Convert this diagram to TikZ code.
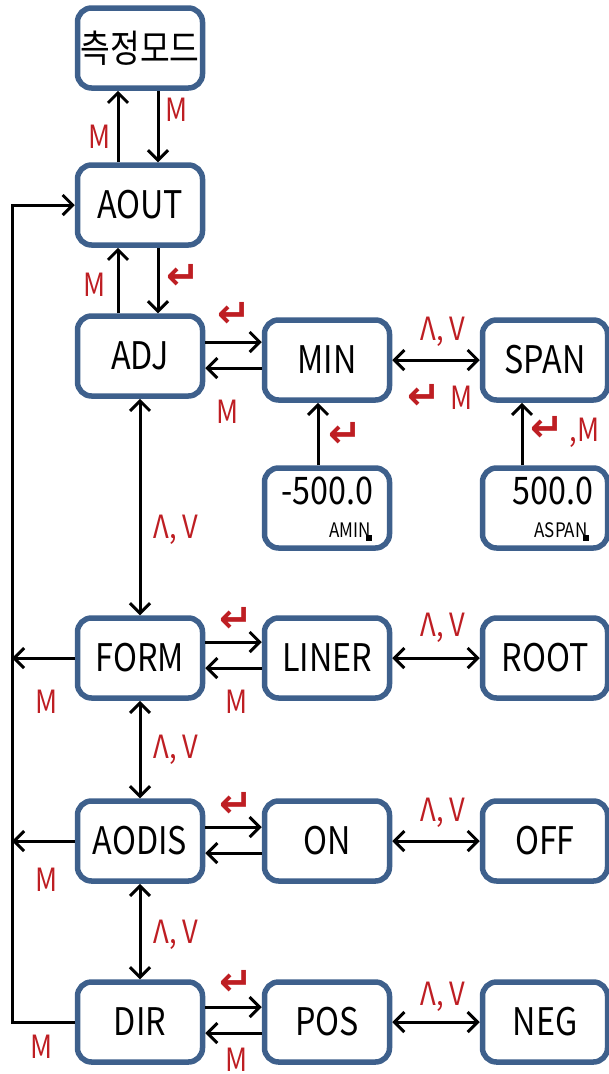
\documentclass[tikz,border=0pt]{standalone}
\usepackage{fontspec}
\setmainfont{Noto Sans CJK KR}[FakeStretch=0.85]
\newfontfamily\retfont{DejaVu Sans Bold}
\usetikzlibrary{arrows.meta}
\definecolor{boxblue}{RGB}{62,96,140}
\definecolor{keyred}{RGB}{190,30,35}
\newcommand{\ret}{{\retfont\fontsize{40}{40}\selectfont ↵}}
\begin{document}
\begin{tikzpicture}[x=1pt,y=-1pt,
  box/.style={draw=boxblue,line width=5.5pt,rounded corners=14pt,minimum width=125pt,minimum height=80pt,inner sep=0pt,font=\fontsize{38}{40}\selectfont},
  key/.style={text=keyred,inner sep=0pt,font=\fontsize{32}{34}\selectfont},
  arr/.style={line width=3pt,-{Straight Barb[length=10pt,width=20pt]}},
  both/.style={line width=3pt,{Straight Barb[length=10pt,width=20pt]}-{Straight Barb[length=10pt,width=20pt]}}]
\useasboundingbox (0,0) rectangle (609,1074);
% boxes
\node[box] (mode) at (140,48) {측정모드};
\node[box] (aout) at (140,205) {AOUT};
\node[box] (adj) at (140,356) {ADJ};
\node[box] (min) at (327,360) {MIN};
\node[box] (span) at (545,360) {SPAN};
\node[box] (amin) at (327,508) {};
\node[box] (aspan) at (545,508) {};
\node[box] (form) at (140,658) {FORM};
\node[box] (liner) at (327,658) {LINER};
\node[box] (root) at (545,658) {ROOT};
\node[box] (aodis) at (140,841) {AODIS};
\node[box] (on) at (327,841) {ON};
\node[box] (off) at (545,841) {OFF};
\node[box] (dir) at (140,1022) {DIR};
\node[box] (pos) at (327,1022) {POS};
\node[box] (neg) at (545,1022) {NEG};
% values
\node[font=\fontsize{38}{40}\selectfont] (aminval) at (327,491) {-500.0};
\node[font=\fontsize{20}{22}\selectfont] (aminlbl) at (350,530) {AMIN};
\node[font=\fontsize{38}{40}\selectfont] (aspanval) at (553,491) {500.0};
\node[font=\fontsize{20}{22}\selectfont] (aspanlbl) at (561,530) {ASPAN};
\fill (366,535) rectangle (372,541);
\fill (583,535) rectangle (589,541);
% top
\draw[arr] ([xshift=-22pt]aout.north) -- ([xshift=-22pt]mode.south);
\draw[arr] ([xshift=18pt]mode.south) -- ([xshift=18pt]aout.north);
\node[key] (k1) at (100,137) {M};
\node[key] (k2) at (177,110) {M};
\draw[arr] ([xshift=-22pt]adj.north) -- ([xshift=-22pt]aout.south);
\draw[arr] ([xshift=18pt]aout.south) -- ([xshift=18pt]adj.north);
\node[key] (k3) at (95,285) {M};
\node[key] (k4) at (183,277) {\ret};
% adj row
\draw[arr] ([yshift=14pt]adj.east) -- ([yshift=18pt]min.west);
\draw[arr] ([yshift=-8pt]min.west) -- ([yshift=-12pt]adj.east);
\node[key] (k5) at (234,315) {\ret};
\node[key] (k6) at (228,412) {M};
\draw[both] (min) -- (span);
\node[key] (k7) at (443,332) {Λ, V};
\node[key] (k8) at (440,397) {\ret\hspace{10pt}M};
\draw[arr] ([xshift=-9pt]amin.north) -- ([xshift=-9pt]min.south);
\node[key] (k9) at (345,435) {\ret};
\draw[arr] ([xshift=-23pt]aspan.north) -- ([xshift=-23pt]span.south);
\node[key] (k10) at (565,432) {\ret\,,M};
% form row
\draw[both] (adj) -- (form);
\node[key] (k11) at (176,530) {Λ, V};
\draw[arr] ([yshift=16pt]form.east) -- ([yshift=16pt]liner.west);
\draw[arr] ([yshift=-10pt]liner.west) -- ([yshift=-10pt]form.east);
\node[key] (k12) at (236,620) {\ret};
\node[key] (k13) at (237,702) {M};
\draw[both] (liner) -- (root);
\node[key] (k14) at (443,628) {Λ, V};
% aodis row
\draw[both] (form) -- (aodis);
\node[key] (k15) at (176,750) {Λ, V};
\draw[arr] ([yshift=14pt]aodis.east) -- ([yshift=14pt]on.west);
\draw[arr] ([yshift=-12pt]on.west) -- ([yshift=-12pt]aodis.east);
\node[key] (k16) at (236,805) {\ret};
\draw[both] (on.east) -- (off.west);
\node[key] (k17) at (443,813) {Λ, V};
% dir row
\draw[both] (aodis) -- (dir);
\node[key] (k18) at (176,935) {Λ, V};
\draw[arr] ([yshift=15pt]dir.east) -- ([yshift=15pt]pos.west);
\draw[arr] ([yshift=-11pt]pos.west) -- ([yshift=-11pt]dir.east);
\node[key] (k19) at (236,983) {\ret};
\node[key] (k20) at (237,1060) {M};
\draw[both] (pos) -- (neg);
\node[key] (k21) at (443,997) {Λ, V};
% return loop
\coordinate (loop) at (12,600);
\draw[arr] (form.west) -- (form.west -| loop);
\node[key] (k22) at (47,702) {M};
\draw[arr] (aodis.west) -- (aodis.west -| loop);
\node[key] (k23) at (47,880) {M};
\draw[arr] (dir.west) -- (dir.west -| loop) -- (aout.west -| loop) -- (aout.west);
\node[key] (k24) at (42,1047) {M};
\end{tikzpicture}
\end{document}
